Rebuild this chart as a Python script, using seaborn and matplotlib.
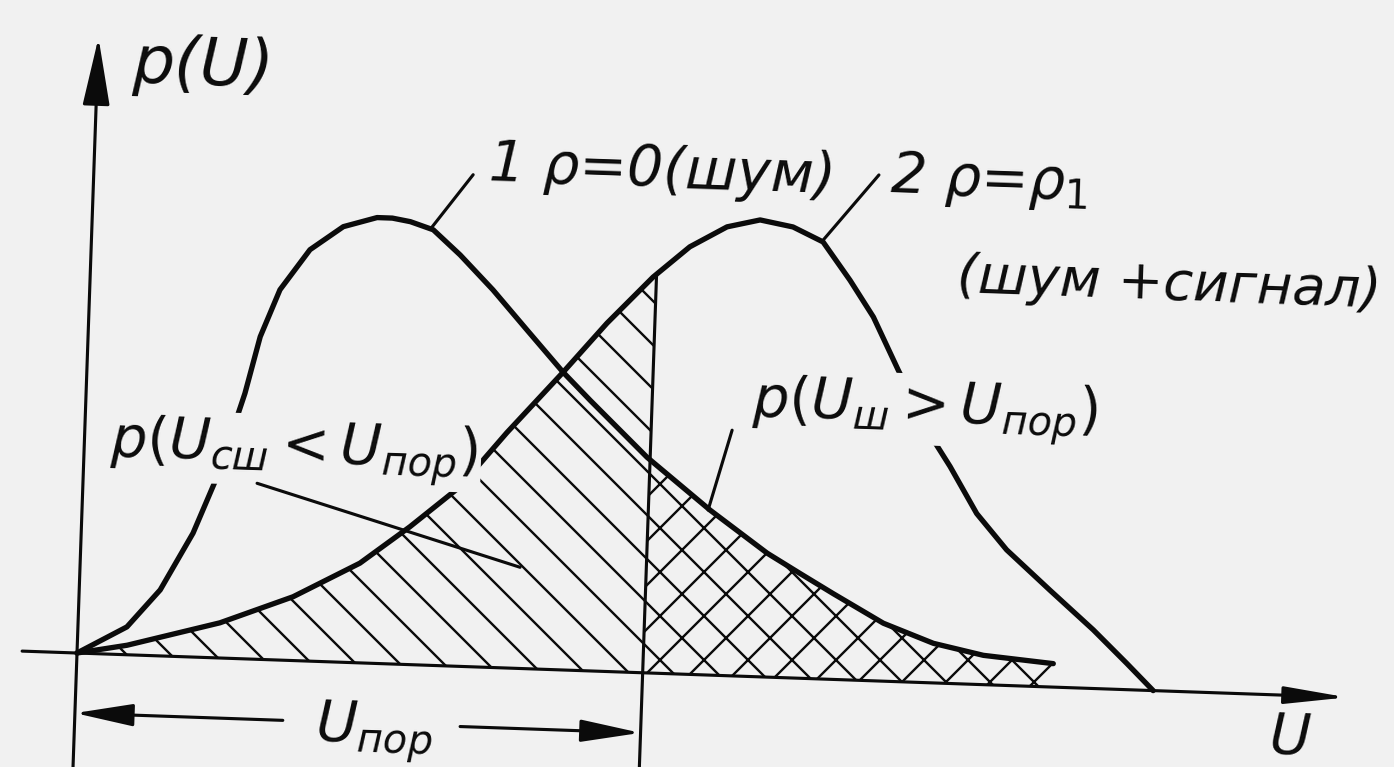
import numpy as np
import matplotlib
matplotlib.use("Agg")
import matplotlib.pyplot as plt
from matplotlib.transforms import Affine2D
import seaborn as sns

# Envelope amplitude U and probability density p(U)
# curve 1: noise only (rho = 0)
u_noise = [0.000, 0.173, 0.286, 0.395, 0.473, 0.561, 0.608, 0.672, 0.773, 0.888,
           1.006, 1.060, 1.124, 1.206, 1.304, 1.424, 1.549, 1.682, 1.781, 1.989,
           2.218, 2.425, 2.543, 2.663, 2.844, 3.023, 3.201, 3.449]
p_noise = [0.000, 0.038, 0.090, 0.169, 0.247, 0.362, 0.440, 0.505, 0.561, 0.594,
           0.608, 0.608, 0.604, 0.594, 0.561, 0.515, 0.462, 0.406, 0.369, 0.294,
           0.225, 0.169, 0.143, 0.117, 0.079, 0.054, 0.040, 0.032]
# curve 2: noise + signal (rho = rho_1)
u_signal = [0.000, 0.176, 0.501, 0.756, 0.988, 1.160, 1.332, 1.491, 1.682, 1.831,
            1.988, 2.114, 2.243, 2.359, 2.476, 2.584, 2.684, 2.771, 2.865, 2.986,
            3.060, 3.160, 3.270, 3.428, 3.586, 3.708, 3.805]
p_signal = [0.000, 0.013, 0.048, 0.087, 0.136, 0.188, 0.245, 0.321, 0.406, 0.475,
            0.540, 0.583, 0.612, 0.623, 0.615, 0.596, 0.545, 0.496, 0.425, 0.338,
            0.296, 0.233, 0.185, 0.132, 0.080, 0.036, 0.000]
# detection threshold U_пор
u_threshold = 2.0

label_axis_y = "p(U)"
label_axis_x = "U"
label_noise = "1 ρ=0(шум)"
label_signal = "2 ρ=ρ$_1$"
label_signal_note = "(шум +сигнал)"
label_miss = "$p(U_{сш}<U_{пор})$"
label_false = "$p(U_{ш}>U_{пор})$"
label_threshold = "$U_{пор}$"

# ---------------------------------------------------------------- style
BG = "#f1f1f1"
INK = "#0b0b0b"
sns.set_theme(style="white")
plt.rcParams["font.family"] = ["DejaVu Sans"]
plt.rcParams["mathtext.fontset"] = "dejavusans"
plt.rcParams["hatch.linewidth"] = 0.65

DPI = 264
fig = plt.figure(figsize=(1394 / DPI, 767 / DPI), dpi=DPI, facecolor=BG)
ax = fig.add_axes([0, 0, 1, 1])
ax.set_facecolor(BG)
XLIM = (-0.2721, 4.6537)
YLIM = (-0.1555, 0.8909)
ax.set_xlim(*XLIM)
ax.set_ylim(*YLIM)
ax.set_axis_off()

# the whole drawing sits slightly tilted around the origin
TILT = 2.0
ox, oy = ax.transData.transform((0.0, 0.0))
T = ax.transData + Affine2D().rotate_deg_around(ox, oy, -TILT)

u1, p1 = np.asarray(u_noise), np.asarray(p_noise)
u2, p2 = np.asarray(u_signal), np.asarray(p_signal)
p1_th = np.interp(u_threshold, u1, p1)
p2_th = np.interp(u_threshold, u2, p2)

# ---------------------------------------------------------------- hatched areas
left = u2 < u_threshold
ux = np.append(u2[left], u_threshold)
py = np.append(p2[left], p2_th)
ax.fill_between(ux, 0, py, transform=T, facecolor="none", edgecolor=INK,
                linewidth=0, hatch="\\\\", zorder=1)

right = u1 > u_threshold
ux = np.insert(u1[right], 0, u_threshold)
py = np.insert(p1[right], 0, p1_th)
ax.fill_between(ux, 0, py, transform=T, facecolor="none", edgecolor=INK,
                linewidth=0, hatch="xx", zorder=1)

# ---------------------------------------------------------------- curves
for uu, pp in ((u1, p1), (u2, p2)):
    sns.lineplot(x=uu, y=pp, ax=ax, color=INK, lw=1.45, sort=False,
                 estimator=None, transform=T, zorder=3,
                 solid_joinstyle="round", solid_capstyle="round")

# threshold line (runs down past the axis as a dimension extension)
ax.plot([u_threshold, u_threshold], [YLIM[0], p2_th], transform=T,
        color=INK, lw=0.85, zorder=3)


def arrow(tail, tip, hl, hw, lw=0.85):
    ax.annotate("", xy=tip, xytext=tail, xycoords=T, textcoords=T,
                arrowprops=dict(arrowstyle=f"-|>,head_length={hl},head_width={hw}",
                                color=INK, lw=lw, shrinkA=0, shrinkB=0,
                                mutation_scale=20),
                zorder=5)


# axes
arrow((0.0, YLIM[0]), (0.0, 0.840), 0.80, 0.16)
arrow((-0.194, 0.0), (4.490, 0.0), 0.72, 0.10)
# threshold dimension
arrow((0.735, -0.082), (0.0, -0.082), 0.68, 0.13)
arrow((1.362, -0.082), (u_threshold, -0.082), 0.70, 0.13)

# leader lines
leaders = [((1.198, 0.596), (1.340, 0.671)),
           ((2.583, 0.598), (2.773, 0.690)),
           ((0.615, 0.240), (1.554, 0.138)),
           ((2.286, 0.335), (2.211, 0.225))]
for (xa, ya), (xb, yb) in leaders:
    ax.plot([xa, xb], [ya, yb], transform=T, color=INK, lw=0.85, zorder=5)

# ---------------------------------------------------------------- labels
mask = dict(boxstyle="square,pad=0.05", fc=BG, ec="none")
texts = [
    (0.124, 0.781, label_axis_y, 18.0, None),
    (1.393, 0.663, label_noise, 15.5, None),
    (2.814, 0.666, label_signal, 15.5, None),
    (3.060, 0.534, label_signal_note, 14.8, None),
    (0.093, 0.269, label_miss, 15.5, mask),
    (2.354, 0.355, label_false, 15.5, mask),
    (0.852, -0.110, label_threshold, 15.5, mask),
    (4.219, -0.080, label_axis_x, 15.5, None),
]
for x, y, s, fs, bb in texts:
    ax.text(x, y, s, transform=T, rotation=-TILT, rotation_mode="anchor",
            ha="left", va="baseline", fontsize=fs, fontstyle="italic",
            color=INK, bbox=bb, zorder=4)

ax.set_xlim(*XLIM)
ax.set_ylim(*YLIM)
fig.savefig("out.png", dpi=DPI, facecolor=BG)
